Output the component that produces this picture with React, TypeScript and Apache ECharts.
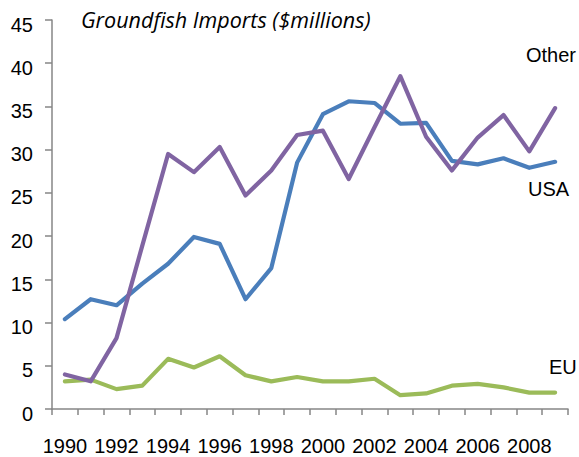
import React, { useEffect, useRef } from "react";
import * as echarts from "echarts";

// Years on the category axis
const years: string[] = [
  "1990", "1991", "1992", "1993", "1994", "1995", "1996", "1997", "1998", "1999",
  "2000", "2001", "2002", "2003", "2004", "2005", "2006", "2007", "2008", "2009",
];

// Imports by origin, $ millions
const usa: number[] = [
  10.4, 12.7, 12.0, 14.5, 16.8, 19.9, 19.1, 12.7, 16.3, 28.5,
  34.1, 35.6, 35.4, 33.0, 33.1, 28.7, 28.3, 29.0, 27.9, 28.6,
];
const other: number[] = [
  4.0, 3.2, 8.2, 18.9, 29.5, 27.4, 30.3, 24.7, 27.6, 31.7,
  32.2, 26.6, 32.6, 38.5, 31.5, 27.6, 31.4, 34.0, 29.8, 34.8,
];
const eu: number[] = [
  3.2, 3.4, 2.3, 2.7, 5.8, 4.8, 6.1, 3.9, 3.2, 3.7,
  3.2, 3.2, 3.5, 1.6, 1.8, 2.7, 2.9, 2.5, 1.9, 1.9,
];

const title = "Groundfish Imports ($millions)";
const seriesNames = { usa: "USA", other: "Other", eu: "EU" };

const axisGray = "#868686";
const labelFont = "'Liberation Sans', Arial, sans-serif";

export default function App() {
  const ref = useRef<HTMLDivElement>(null);

  useEffect(() => {
    if (!ref.current) return;
    const chart = echarts.init(ref.current, undefined, { renderer: "svg" });

    const lineSeries = (name: string, data: number[], color: string) => ({
      name,
      type: "line",
      data,
      symbol: "none",
      lineStyle: { color, width: 4.2, cap: "round", join: "round" },
      itemStyle: { color },
    });

    chart.setOption({
      animation: false,
      backgroundColor: "#ffffff",
      grid: { left: 52, right: 11, top: 20, bottom: 48, containLabel: false },
      xAxis: {
        type: "category",
        data: years,
        boundaryGap: true,
        axisLine: { lineStyle: { color: axisGray, width: 1.5 } },
        axisTick: { show: true, interval: 0, length: 6, lineStyle: { color: axisGray, width: 1.5 } },
        axisLabel: {
          interval: 1,
          color: "#000",
          fontFamily: labelFont,
          fontSize: 20,
          margin: 27,
        },
        splitLine: { show: false },
      },
      yAxis: {
        type: "value",
        min: 0,
        max: 45,
        interval: 5,
        axisLine: { show: true, lineStyle: { color: axisGray, width: 1.5 } },
        axisTick: { show: true, length: 7, lineStyle: { color: axisGray, width: 1.5 } },
        axisLabel: {
          color: "#000",
          fontFamily: labelFont,
          fontSize: 20,
          margin: 19,
          formatter: "{v|{value}}",
          rich: {
            v: {
              color: "#000",
              fontFamily: labelFont,
              fontSize: 20,
              padding: [9, 0, 0, 0],
            },
          },
        },
        splitLine: { show: false },
      },
      graphic: [
        {
          type: "text",
          left: 81,
          top: 8,
          style: {
            text: title,
            fontFamily: "'Open Sans', 'Noto Sans', sans-serif",
            fontStyle: "italic",
            fontSize: 21.5,
            fill: "#000",
          },
        },
        {
          type: "text",
          left: 526,
          top: 45,
          style: { text: seriesNames.other, fontFamily: labelFont, fontSize: 20, fill: "#000" },
        },
        {
          type: "text",
          left: 528,
          top: 179,
          style: { text: seriesNames.usa, fontFamily: labelFont, fontSize: 20, fill: "#000" },
        },
        {
          type: "text",
          left: 549,
          top: 357,
          style: { text: seriesNames.eu, fontFamily: labelFont, fontSize: 20, fill: "#000" },
        },
      ],
      series: [
        lineSeries(seriesNames.eu, eu, "#9BBB59"),
        lineSeries(seriesNames.usa, usa, "#4A7EBB"),
        lineSeries(seriesNames.other, other, "#8064A2"),
      ],
    });

    return () => chart.dispose();
  }, []);

  return (
    <div
      ref={ref}
      style={{ position: "fixed", left: 0, top: 0, width: 579, height: 457, background: "#fff" }}
    />
  );
}
